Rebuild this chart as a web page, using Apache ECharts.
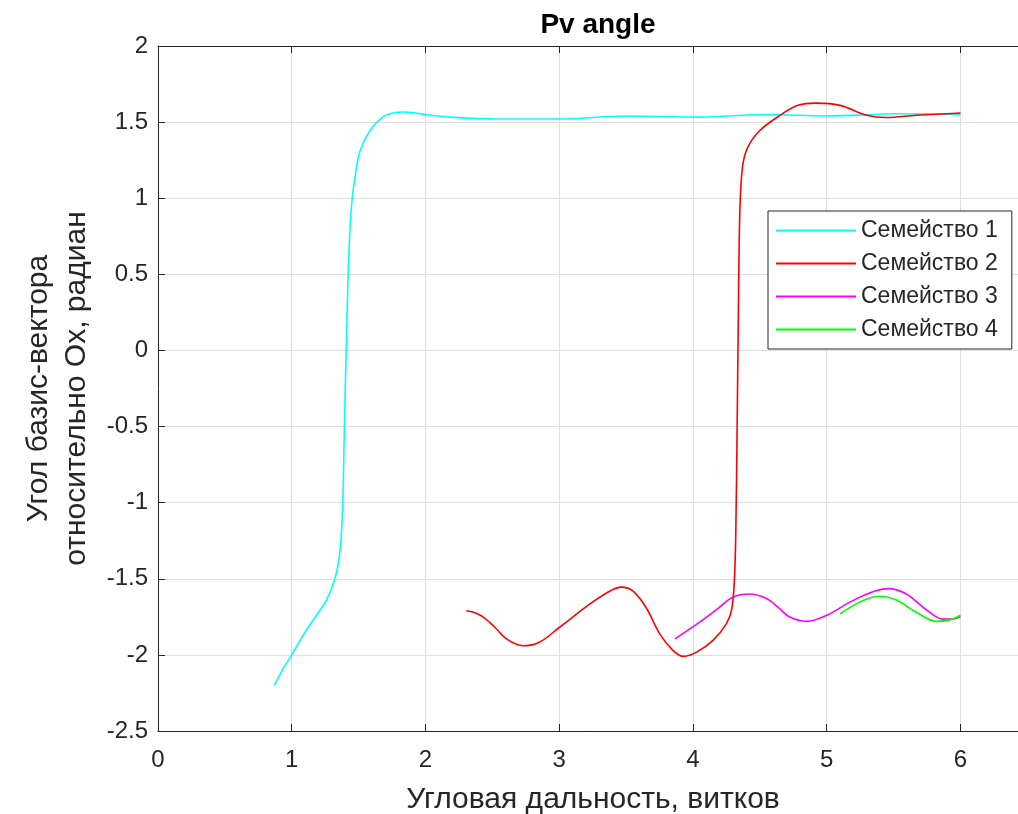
<!DOCTYPE html>
<html>
<head>
<meta charset="utf-8">
<title>Pv angle</title>
<script src="https://cdn.jsdelivr.net/npm/echarts@6/dist/echarts.min.js"></script>
<style>
  body { margin: 0; background: #fff; }
  #chart { width: 1018px; height: 814px; }
</style>
</head>
<body>
<div id="chart"></div>
<script>
// данные: [угловая дальность, угол]
var family1 = [
  [0.87, -2.20], [0.93, -2.10], [1.0, -2.0], [1.1, -1.85], [1.2, -1.72], [1.26, -1.64],
  [1.32, -1.51], [1.355, -1.36], [1.375, -1.15], [1.385, -0.9], [1.39, -0.66], [1.40, -0.25],
  [1.41, 0.1], [1.42, 0.45], [1.435, 0.79], [1.45, 0.98], [1.47, 1.12], [1.51, 1.31],
  [1.585, 1.445], [1.68, 1.533], [1.76, 1.56], [1.835, 1.566], [1.92, 1.56], [2.01, 1.548],
  [2.18, 1.533], [2.53, 1.52], [3.0, 1.52], [3.5, 1.54], [4.05, 1.533], [4.55, 1.55],
  [5.0, 1.54], [5.55, 1.555], [6.0, 1.55]
];
var family2 = [
  [2.305, -1.71], [2.36, -1.72], [2.43, -1.75], [2.52, -1.82], [2.605, -1.895], [2.73, -1.94],
  [2.855, -1.915], [3.0, -1.82], [3.23, -1.665], [3.38, -1.58], [3.465, -1.555], [3.55, -1.58],
  [3.65, -1.69], [3.75, -1.86], [3.85, -1.97], [3.93, -2.01], [4.03, -1.98], [4.15, -1.905],
  [4.25, -1.795], [4.29, -1.7], [4.31, -1.5], [4.32, -1.2], [4.33, -0.5], [4.34, 0.3],
  [4.35, 0.9], [4.37, 1.205], [4.41, 1.336], [4.5, 1.445], [4.65, 1.544], [4.785, 1.61],
  [4.92, 1.625], [5.1, 1.61], [5.3, 1.545], [5.445, 1.53], [5.67, 1.545], [6.0, 1.56]
];
var family3 = [
  [3.865, -1.895], [4.05, -1.785], [4.18, -1.70], [4.30, -1.62], [4.425, -1.60], [4.55, -1.63],
  [4.64, -1.69], [4.72, -1.75], [4.85, -1.78], [5.0, -1.74], [5.17, -1.655], [5.33, -1.59],
  [5.46, -1.565], [5.595, -1.60], [5.74, -1.70], [5.87, -1.765], [5.94, -1.765], [6.0, -1.75]
];
var family4 = [
  [5.10, -1.73], [5.22, -1.665], [5.31, -1.63], [5.395, -1.615], [5.52, -1.64], [5.67, -1.72],
  [5.82, -1.78], [5.92, -1.77], [6.0, -1.74]
];
var seriesNames = ['Семейство 1', 'Семейство 2', 'Семейство 3', 'Семейство 4'];
var seriesColors = ['#00ffff', '#ff0000', '#ff00ff', '#00ff00'];

var myChart = echarts.init(document.getElementById('chart'));
var axisColor = '#262626';
var font = 'Liberation Sans, Arial, sans-serif';

function makeSeries(i, data) {
  return {
    name: seriesNames[i],
    type: 'line',
    data: data,
    showSymbol: false,
    smooth: 0.35,
    lineStyle: { color: seriesColors[i], width: 1.6 },
    itemStyle: { color: seriesColors[i] }
  };
}

var option = {
  animation: false,
  backgroundColor: '#fff',
  textStyle: { fontFamily: font },
  title: {
    text: 'Pv angle',
    left: 593,
    top: 6,
    textAlign: 'center',
    textStyle: { fontSize: 28, fontWeight: 'bold', color: '#000', fontFamily: font }
  },
  legend: {
    orient: 'vertical',
    left: 768,
    top: 211,
    data: seriesNames,
    icon: 'rect',
    itemWidth: 80,
    itemHeight: 2,
    itemGap: 8,
    padding: [7, 14, 7, 8],
    borderColor: axisColor,
    borderWidth: 1,
    backgroundColor: '#fff',
    textStyle: { fontSize: 23, lineHeight: 25, color: axisColor, fontFamily: font }
  },
  grid: { left: 158, right: 0, top: 46, bottom: 83, outerBoundsMode: 'none' },
  xAxis: [{
    type: 'value',
    min: 0,
    max: 6.43,
    interval: 1,
    name: 'Угловая дальность, витков',
    nameLocation: 'middle',
    nameGap: 54,
    nameTextStyle: { fontSize: 30, color: axisColor, fontFamily: font, padding: [0, 0, 0, 10] },
    axisLine: { onZero: false, lineStyle: { color: axisColor, width: 1 } },
    axisTick: { inside: true, length: 7, lineStyle: { color: axisColor } },
    axisLabel: { fontSize: 24, color: axisColor, margin: 17, showMaxLabel: false },
    splitLine: { show: true, lineStyle: { color: '#dfdfdf' } }
  }, {
    type: 'value',
    position: 'top',
    min: 0,
    max: 6.43,
    interval: 1,
    axisLine: { show: true, onZero: false, lineStyle: { color: axisColor, width: 1 } },
    axisTick: { inside: true, length: 7, lineStyle: { color: axisColor } },
    axisLabel: { show: false },
    splitLine: { show: false }
  }],
  yAxis: {
    type: 'value',
    min: -2.5,
    max: 2,
    interval: 0.5,
    name: 'Угол базис-вектора\nотносительно Ox, радиан',
    nameLocation: 'middle',
    nameGap: 60,
    nameRotate: 90,
    nameTextStyle: { fontSize: 30, lineHeight: 38, color: axisColor, fontFamily: font },
    axisLine: { show: true, onZero: false, lineStyle: { color: axisColor, width: 1 } },
    axisTick: { show: true, inside: true, length: 7, lineStyle: { color: axisColor } },
    axisLabel: { fontSize: 24, color: axisColor, margin: 10 },
    splitLine: { show: true, lineStyle: { color: '#dfdfdf' } }
  },
  series: [
    makeSeries(0, family1),
    makeSeries(1, family2),
    makeSeries(2, family3),
    makeSeries(3, family4)
  ]
};

myChart.setOption(option);
</script>
</body>
</html>
